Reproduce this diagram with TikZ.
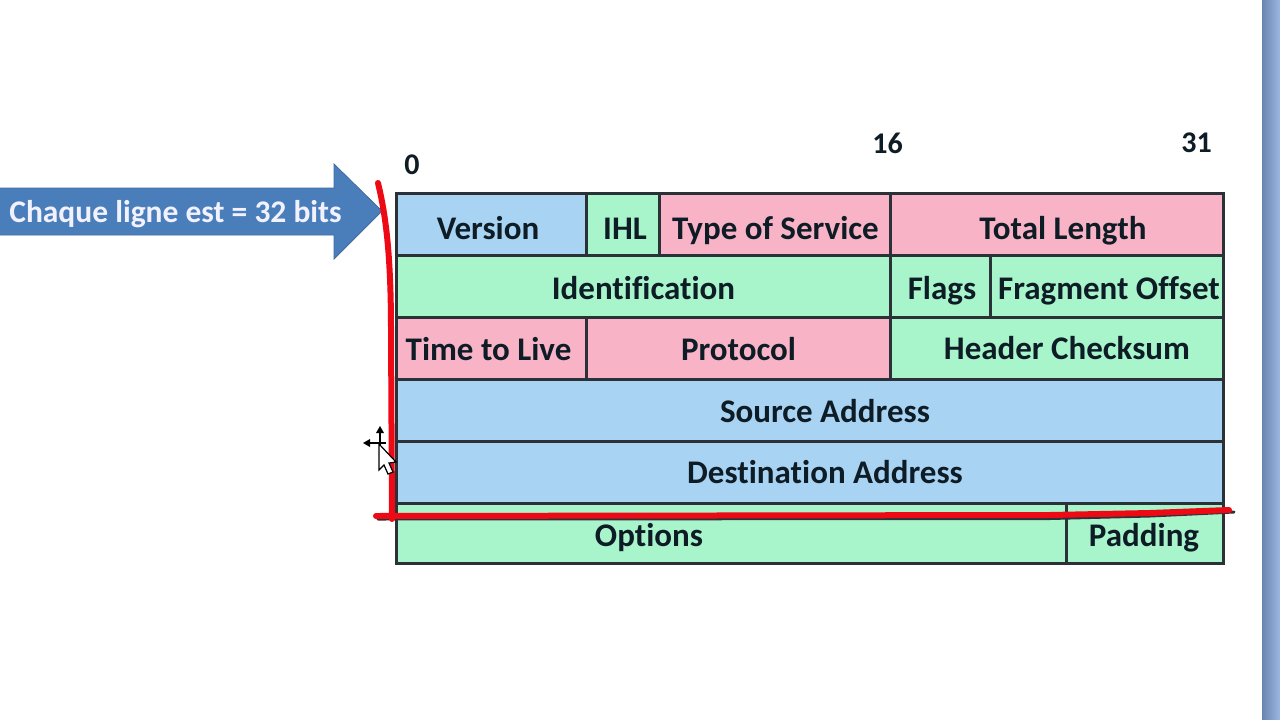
\documentclass[tikz,border=0pt]{standalone}
\usepackage{fontspec}
\setmainfont[Ligatures=NoCommon]{Carlito}
\definecolor{cblue}{HTML}{A9D3F2}
\definecolor{cgreen}{HTML}{A8F4CB}
\definecolor{cpink}{HTML}{F8B3C6}
\definecolor{cline}{HTML}{2A3238}
\definecolor{ctext}{HTML}{0E1C26}
\definecolor{arrowblue}{HTML}{4A7EBB}
\definecolor{redpen}{HTML}{EE0A14}
\tikzset{
  celltext/.style={inner sep=0pt,outer sep=0pt,font=\bfseries\fontsize{33}{33}\selectfont,text=ctext},
  numlabel/.style={inner sep=0pt,font=\bfseries\fontsize{30}{30}\selectfont,text=ctext},
  pen/.style={draw=redpen,line width=6pt,line cap=round},
  penshadow/.style={draw=cline,line width=3pt,line cap=round},
}
% name, x1, y1, x2, y2, colour, text, text centre x, text centre y
\newcommand{\cellnode}[9]{%
  \path[fill=#6,draw=cline,line width=3pt] (#2,#3) rectangle (#4,#5);
  \node[celltext,anchor=base] (#1) at (#8,#9) {#7};
}
\begin{document}
\begin{tikzpicture}[x=1pt,y=-1pt]
\useasboundingbox[fill=white] (0,0) rectangle (1280,720);
% right band
\shade[left color={rgb,255:red,104;green,132;blue,176},right color={rgb,255:red,156;green,184;blue,226}]
  (1262,0) rectangle (1280,720);
% cells
\cellnode{ver}{396}{193}{586}{255}{cblue}{Version}{488}{239}
\cellnode{ihl}{586}{193}{659}{255}{cgreen}{IHL}{625}{239}
\cellnode{tos}{659}{193}{890}{255}{cpink}{Type of Service}{775.5}{239}
\cellnode{len}{890}{193}{1223}{255}{cpink}{Total Length}{1063}{239}
\cellnode{idn}{396}{255}{890}{317}{cgreen}{Identification}{643.5}{299}
\cellnode{flg}{890}{255}{990}{317}{cgreen}{Flags}{942}{299}
\cellnode{frg}{990}{255}{1223}{317}{cgreen}{Fragment Offset}{1109}{299}
\cellnode{ttl}{396}{317}{586}{379}{cpink}{Time to Live}{488.5}{360}
\cellnode{pro}{586}{317}{890}{379}{cpink}{Protocol}{738.5}{360}
\cellnode{chk}{890}{317}{1223}{379}{cgreen}{Header Checksum}{1067}{359}
\cellnode{src}{396}{379}{1223}{441}{cblue}{Source Address}{825}{422}
\cellnode{dst}{396}{441}{1223}{503}{cblue}{Destination Address}{825}{483}
\cellnode{opt}{396}{503}{1066}{563}{cgreen}{Options}{649}{546}
\cellnode{pad}{1066}{503}{1223}{563}{cgreen}{Padding}{1144}{546}
% bit numbers
\node[numlabel] (n0) at (412,165) {0};
\node[numlabel] (n16) at (887.5,143) {16};
\node[numlabel] (n31) at (1196.5,143) {31};
% arrow
\path[fill=arrowblue,draw=arrowblue!85!black,line width=0.8pt]
  (-2,188) -- (334,188) -- (334,164) -- (382,211) -- (334,259) -- (334,235) -- (-2,235) -- cycle;
\node[inner sep=0pt,text=white!95!blue,font=\bfseries\fontsize{31.5}{31.5}\selectfont,anchor=base] (lab) at (175.5,222) {Chaque ligne est = 32 bits};
% pen shadow and strokes
\draw[penshadow] (378,519) -- (1050,518.5) -- (1150,516) -- (1234,512);
\draw[pen] (378,183) .. controls (385,212) and (391,250) .. (391,330) -- (392,519);
\draw[pen] (376,516) -- (1050,515) -- (1150,513) -- (1229,510);
% cursor
\draw[black,line width=1.4pt] (380,428) -- (380,446) (365,443) -- (386,443);
\path[fill=black] (380,426) -- (376,433) -- (384,433) -- cycle
  (363,443) -- (370,439) -- (370,447) -- cycle;
\path[fill=white,draw=black,line width=1.2pt] (379,444) -- (379,470) -- (384,465) -- (388,474) -- (393,472) -- (389,463) -- (396,462) -- cycle;
\end{tikzpicture}
\end{document}
